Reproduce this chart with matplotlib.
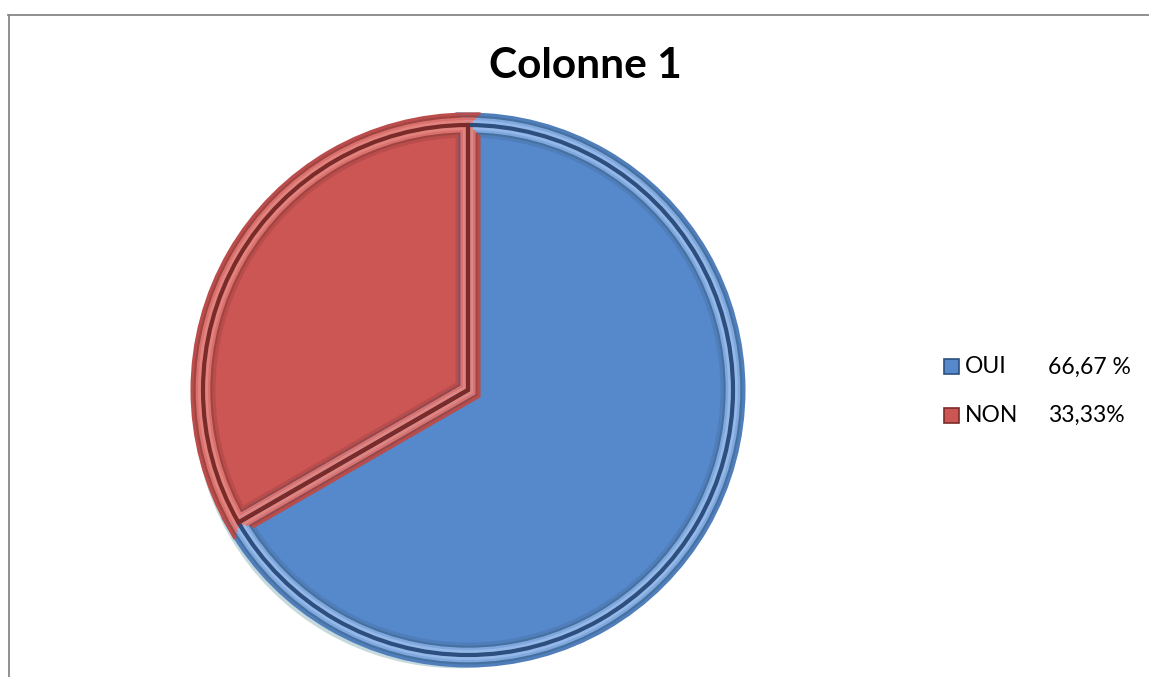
import matplotlib
matplotlib.use("Agg")
import matplotlib.pyplot as plt
from matplotlib.lines import Line2D
from matplotlib.patches import Rectangle

# ---- data ----
title = "Colonne 1"
categories = ["OUI", "NON"]
values = [66.67, 33.33]
pct_labels = ["66,67 %", "33,33%"]

main_colors = ["#5689CB", "#CC5654"]
trans_colors = ["#4F7EBB", "#BA4D4B"]
inner_dark = ["#46709F", "#A04441"]
light_colors = ["#7FA8DF", "#DB716E"]
light2_colors = ["#94B8E7", "#E2837E"]
dark_colors = ["#2C4F80", "#7A2B29"]
shadow_color = "#1F6A7A"

W, H = 1149, 677
fig = plt.figure(figsize=(W / 100, H / 100), dpi=100)
fig.patch.set_facecolor("white")

# frame lines (top and left)
fig.add_artist(Line2D([8 / W, 1.0], [1 - 14.5 / H, 1 - 14.5 / H], color="#878787", lw=1.3))
fig.add_artist(Line2D([8.5 / W, 8.5 / W], [0, 1 - 14.5 / H], color="#878787", lw=1.3))

# title
fig.text(585 / W, 1 - 66 / H, title, ha="center", va="center",
         fontsize=30.5, fontweight="bold", family=["Lato", "DejaVu Sans"])

# pie axes (a bit larger than the pie so the shadow is not clipped)
cx, cy, r = 468, 390, 265
m = 1.1
ax = fig.add_axes([(cx - r * m) / W, (H - cy - r * m) / H, 2 * r * m / W, 2 * r * m / H])


def pie_layer(faces, edges, lw, radius=1.0, center=(0.0, 0.0), alpha=1.0, clip=True, z=2):
    wedges, _ = ax.pie(values, startangle=90, counterclock=False, radius=radius,
                       center=center, colors=list(faces),
                       wedgeprops=dict(linewidth=lw, alpha=alpha, zorder=z))
    for w, ec in zip(wedges, edges):
        w.set_edgecolor(ec)
        if clip:
            w.set_clip_path(w)
    return wedges


# soft shadow (bottom-left)
for off, a in [((-0.035, -0.050), 0.25), ((-0.025, -0.036), 0.40), ((-0.014, -0.021), 0.60)]:
    pie_layer([shadow_color] * 2, ["none"] * 2, 0, center=off, alpha=a, clip=False, z=1)

# bevelled wedges: stacked clipped edge bands
pie_layer(main_colors, trans_colors, 18, z=2)
pie_layer(["none"] * 2, inner_dark, 13.5, z=3)
pie_layer(["none"] * 2, light_colors, 10.5, z=4)
pie_layer(["none"] * 2, light2_colors, 7, z=5)
pie_layer(["none"] * 2, dark_colors, 3.0, z=6)

ax.set_xlim(-m, m)
ax.set_ylim(-m, m)
ax.set_aspect("auto")
ax.axis("off")

# legend (manual)
leg_y = [367, 415]
for cat, pct, col, dc, y in zip(categories, pct_labels, main_colors, dark_colors, leg_y):
    fig.add_artist(Rectangle((944 / W, 1 - (y + 7.5) / H), 15 / W, 15 / H,
                             transform=fig.transFigure, facecolor=col,
                             edgecolor=dc, linewidth=1.2))
    fig.text(965 / W, 1 - y / H, cat, ha="left", va="center",
             fontsize=16.5, family=["Lato", "DejaVu Sans"])
    fig.text(1048 / W, 1 - y / H, pct, ha="left", va="center",
             fontsize=16.5, family=["Lato", "DejaVu Sans"])

fig.savefig("out.png", dpi=100, facecolor="white")
